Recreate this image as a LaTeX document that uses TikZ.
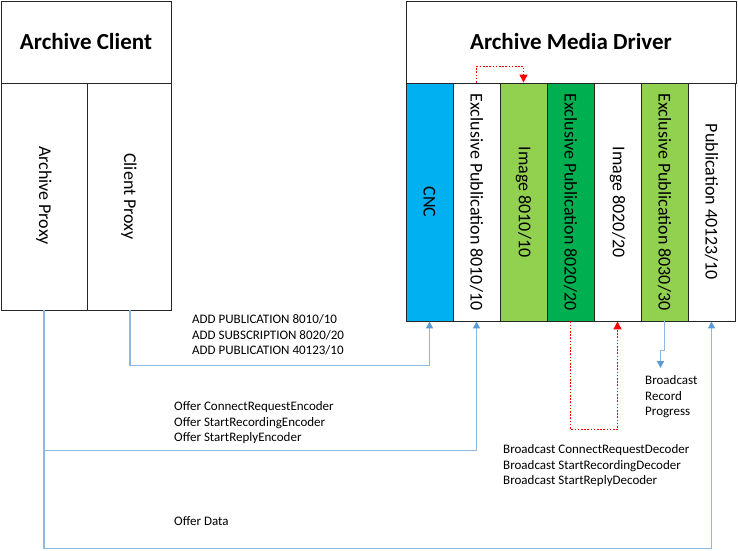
\documentclass[tikz,border=0pt]{standalone}
\usepackage{fontspec}
\setmainfont{Carlito}
\usetikzlibrary{arrows.meta}
\definecolor{cncblue}{HTML}{00B0F0}
\definecolor{lgreen}{HTML}{92D050}
\definecolor{dgreen}{HTML}{00B050}
\definecolor{lineblue}{HTML}{8DB8E2}
\definecolor{tipblue}{HTML}{5B9BD5}
\definecolor{dotred}{HTML}{FF0000}
\begin{document}
\begin{tikzpicture}[x=1pt,y=-1pt,
  titlebox/.style={draw=black!85,line width=0.9pt,fill=white,inner sep=0pt,minimum height=82pt,font=\fontsize{23}{27}\selectfont\bfseries},
  colbox/.style={draw=black!85,line width=0.9pt,inner sep=0pt,minimum width=47pt,minimum height=238pt},
  proxybox/.style={draw=black!85,line width=0.9pt,inner sep=0pt,minimum height=227pt},
  rot/.style={rotate=-90,font=\fontsize{18}{21}\selectfont,inner sep=0pt},
  small/.style={font=\fontsize{13}{15.8}\selectfont,align=left,inner sep=0pt,anchor=north west},
  blueline/.style={draw=lineblue,line width=1.3pt,-{Triangle[width=7pt,length=7pt,color=tipblue]}},
  redline/.style={draw=dotred,line width=1.2pt,dash pattern=on 1.6pt off 1.6pt,-{Triangle[width=8pt,length=8pt,color=dotred]}}
]
\useasboundingbox (0,0) rectangle (738,550);
\fill[white] (0,0) rectangle (738,550);

% Archive Client
\node[titlebox,minimum width=170pt] (ct) at (86,42) {Archive Client};
\node[proxybox,minimum width=86pt] (ap) at (44,196.5) {};
\node[rot] (apt) at ([yshift=1pt]ap.center) {Archive Proxy};
\node[proxybox,minimum width=84pt] (cp) at (129,196.5) {};
\node[rot] (cpt) at (cp.center) {Client Proxy};

% Archive Media Driver
\node[titlebox,minimum width=330pt] (mt) at (571,42) {Archive Media Driver};
\node[colbox,fill=cncblue] (cnc) at (429.5,202) {};
\node[colbox,fill=white] (ep1) at (476.5,202) {};
\node[colbox,fill=lgreen] (im1) at (523.5,202) {};
\node[colbox,fill=dgreen] (ep2) at (570.5,202) {};
\node[colbox,fill=white] (im2) at (617.5,202) {};
\node[colbox,fill=lgreen] (ep3) at (664.5,202) {};
\node[colbox,fill=white] (p40) at (711.5,202) {};
\node[rot] (cnct) at (cnc.center) {CNC};
\node[rot] (ep1t) at (ep1.center) {Exclusive Publication 8010/10};
\node[rot] (im1t) at (im1.center) {Image 8010/10};
\node[rot] (ep2t) at (ep2.center) {Exclusive Publication 8020/20};
\node[rot] (im2t) at (im2.center) {Image 8020/20};
\node[rot] (ep3t) at (ep3.center) {Exclusive Publication 8030/30};
\node[rot] (p40t) at (p40.center) {Publication 40123/10};

% red dotted connectors
\draw[redline] (ep1.north) -- ++(0,-16) -| (im1.north);
\draw[redline] (ep2.south) -- ++(0,108) -| (im2.south);

% blue connectors
\draw[blueline] ([xshift=1pt]cp.south) -- ++(0,55) -| (cnc.south);
\draw[blueline] (ap.south) -- ++(0,140) -| (ep1.south);
\draw[blueline] (ap.south) -- ++(0,238) -| (p40.south);
\coordinate (brp) at (660.5,368);
\draw[blueline] (ep3.south) -- ++(0,29) -| (brp);

% labels
\node[small] (add) at (192,314) {ADD PUBLICATION 8010/10\\ADD SUBSCRIPTION 8020/20\\ADD PUBLICATION 40123/10};
\node[small] (offer) at (174,401) {Offer ConnectRequestEncoder\\Offer StartRecordingEncoder\\Offer StartReplyEncoder};
\node[small] (bdec) at (503,444) {Broadcast ConnectRequestDecoder\\Broadcast StartRecordingDecoder\\Broadcast StartReplyDecoder};
\node[small] (bprog) at (645,375) {Broadcast\\Record\\Progress};
\node[small] (odata) at (174,516) {Offer Data};
\end{tikzpicture}
\end{document}
